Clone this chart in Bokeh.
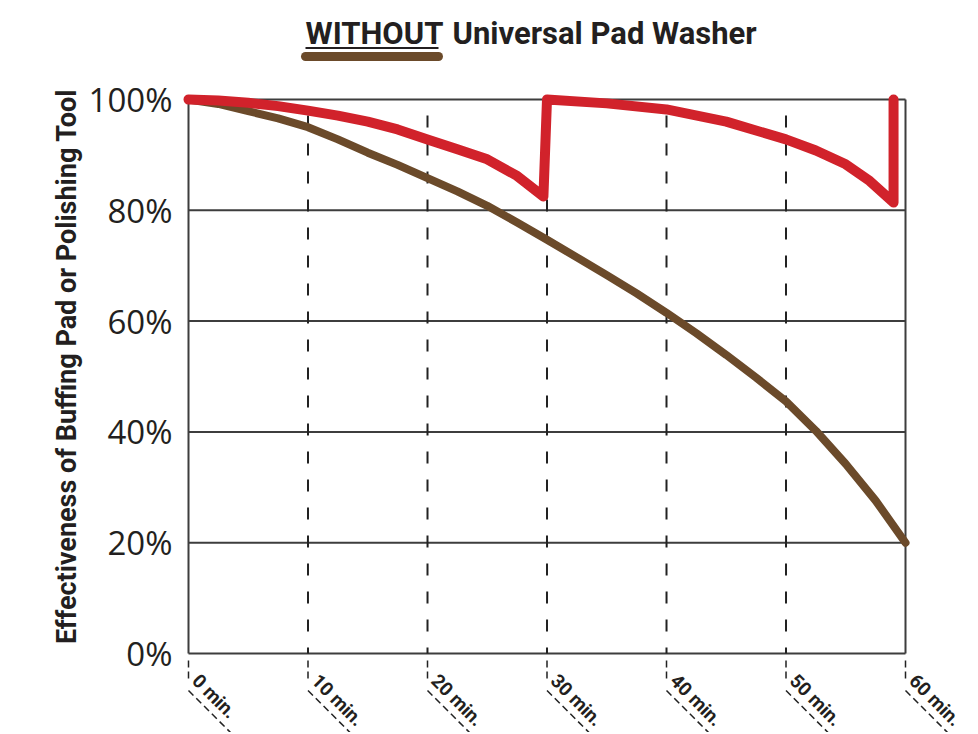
from bokeh.plotting import figure
from bokeh.models import FixedTicker, Range1d
from bokeh.core.properties import value
from bokeh.embed import file_html
from bokeh.resources import INLINE

# ---------------- data ----------------
title_left = "WITHOUT"
title_right = "Universal Pad Washer"
y_axis_title = "Effectiveness of Buffing Pad or Polishing Tool"

# effectiveness WITHOUT washer (brown)
minutes_without = [0, 2.5, 5, 7.5, 10, 12.5, 15, 17.5, 20, 22.5, 25, 27.5, 30, 32.5, 35,
                   37.5, 40, 42.5, 45, 47.5, 50, 52.5, 55, 57.5, 60]
eff_without = [100, 99.2, 97.9, 96.6, 95.0, 92.8, 90.4, 88.2, 85.8, 83.4, 80.8, 77.8, 74.7,
               71.5, 68.3, 65.0, 61.5, 57.8, 53.9, 49.8, 45.5, 40.2, 34.2, 27.6, 20.0]

# effectiveness WITH washer (red), pad cleaned at ~30 and ~59 min
minutes_with = [0, 2.5, 5, 7.5, 10, 12.5, 15, 17.5, 20, 22.5, 25, 27.5, 29.7, 30,
                35, 40, 45, 50, 52.5, 55, 57, 59, 59]
eff_with = [100, 99.8, 99.4, 98.8, 98.0, 97.1, 96.0, 94.6, 92.8, 91.0, 89.2, 86.2, 82.5, 100,
            99.3, 98.2, 96.0, 92.8, 90.8, 88.3, 85.3, 81.4, 100]

x_ticks = [0, 10, 20, 30, 40, 50, 60]
x_labels = ["0 min.", "10 min.", "20 min.", "30 min.", "40 min.", "50 min.", "60 min."]
y_ticks = [0, 20, 40, 60, 80, 100]
y_labels = ["0%", "20%", "40%", "60%", "80%", "100%"]

# ---------------- layout helpers ----------------
W, H = 976, 732
PX_X0, PX_PER_MIN = 188, 11.95     # screen x of 0 min, px per minute
PX_Y0, PX_PER_PCT = 653, 5.54      # screen y of 0 %, px per percent
FRAME_LEFT = 178


def xd(px):
    return (px - PX_X0) / PX_PER_MIN


def yd(py):
    return (PX_Y0 - py) / PX_PER_PCT


X0, X1 = xd(FRAME_LEFT), xd(W)
Y0, Y1 = yd(H), yd(0)

TEXT = "#231f20"
GRID = "#3d3d3d"
RED = "#d1222b"
BROWN = "#6b4a2a"
COND_FONT = "Roboto"
COND = value(COND_FONT)

p = figure(width=W, height=H, x_range=Range1d(X0, X1), y_range=Range1d(Y0, Y1),
           output_backend="svg", toolbar_location=None, x_axis_location=None,
           min_border_left=FRAME_LEFT, min_border_right=0, min_border_top=0,
           min_border_bottom=0, outline_line_color=None)
p.grid.visible = False

ax = p.yaxis[0]
ax.ticker = FixedTicker(ticks=y_ticks)
ax.major_label_overrides = {t: l for t, l in zip(y_ticks, y_labels)}
ax.axis_line_color = None
ax.major_tick_line_color = None
ax.minor_tick_line_color = None
ax.major_label_standoff = 0
ax.major_label_text_font = "Open Sans"
ax.major_label_text_font_size = "33px"
ax.major_label_text_color = TEXT
ax.axis_label = y_axis_title
ax.axis_label_text_font = COND_FONT
ax.axis_label_text_font_style = "bold"
ax.axis_label_text_font_size = "27px"
ax.axis_label_text_color = TEXT
ax.axis_label_standoff = 3

# horizontal grid lines (solid)
xmin, xmax = x_ticks[0], x_ticks[-1]
ymin, ymax = y_ticks[0], y_ticks[-1]
p.segment(x0=[xmin] * len(y_ticks), x1=[xmax] * len(y_ticks), y0=y_ticks, y1=y_ticks,
          line_color=GRID, line_width=2)
# frame sides (solid)
p.segment(x0=[xmin, xmax], x1=[xmin, xmax], y0=[ymin, ymin], y1=[ymax, ymax],
          line_color=GRID, line_width=2)
# inner vertical dashed lines
inner = x_ticks[1:-1]
p.segment(x0=inner, x1=inner, y0=[ymax] * len(inner), y1=[ymin] * len(inner),
          line_color="#222222", line_width=2, line_dash="12 16", line_dash_offset=12)

# dashed tick marks + diagonal dashed guides below the axis
p.segment(x0=x_ticks, x1=x_ticks, y0=[yd(PX_Y0 + 7)] * len(x_ticks),
          y1=[yd(PX_Y0 + 26)] * len(x_ticks), line_color="#222222", line_width=1.5,
          line_dash="7 4")
diag_len = 60
p.segment(x0=x_ticks, x1=[t + diag_len / PX_PER_MIN for t in x_ticks],
          y0=[yd(PX_Y0 + 37)] * len(x_ticks), y1=[yd(PX_Y0 + 37 + diag_len)] * len(x_ticks),
          line_color="#222222", line_width=1.5, line_dash="7 4")
p.text(x=[t + 7 / PX_PER_MIN for t in x_ticks], y=[yd(PX_Y0 + 24)] * len(x_ticks),
       text=x_labels, angle=-0.785, text_align="left", text_baseline="alphabetic",
       text_font=COND, text_font_style="bold", text_font_size="19px", text_color=TEXT)

# data lines
p.line(minutes_without, eff_without, line_color=BROWN, line_width=8,
       line_cap="round", line_join="round")
p.line(minutes_with, eff_with, line_color=RED, line_width=10,
       line_cap="round", line_join="round")

# title
p.text(x=[xd(305)], y=[yd(33)], text=[title_left], text_align="left",
       text_baseline="alphabetic", text_font=COND, text_font_style="bold",
       text_font_size="31px", text_color=TEXT)
p.text(x=[xd(452)], y=[yd(33)], text=[title_right], text_align="left",
       text_baseline="alphabetic", text_font=COND, text_font_style="bold",
       text_font_size="31px", text_color=TEXT)
p.segment(x0=[xd(305)], x1=[xd(438)], y0=[yd(47.5)], y1=[yd(47.5)],
          line_color=TEXT, line_width=2)
p.segment(x0=[xd(305)], x1=[xd(438)], y0=[yd(56)], y1=[yd(56)],
          line_color=BROWN, line_width=9, line_cap="round")

open("out.html", "w").write(file_html(p, INLINE))
